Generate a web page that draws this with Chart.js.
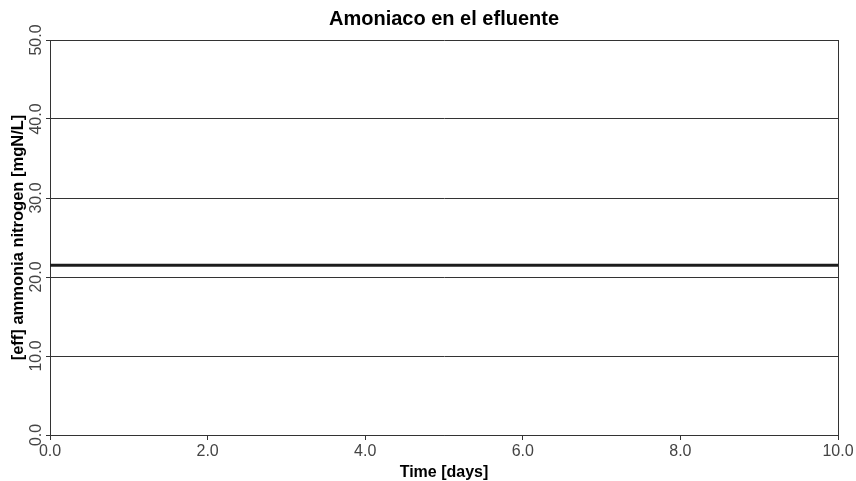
<!DOCTYPE html>
<html>
<head>
<meta charset="utf-8">
<script src="https://cdn.jsdelivr.net/npm/chart.js@4/dist/chart.umd.min.js"></script>
<style>
  html, body { margin: 0; padding: 0; background: #fff; }
  #wrap { width: 856px; height: 481px; }
</style>
</head>
<body>
<div id="wrap"><canvas id="c" width="856" height="481"></canvas></div>
<script>
// Effluent ammonia nitrogen over the simulation period
const timeDays = [0, 0.5, 1, 1.5, 2, 2.5, 3, 3.5, 4, 4.5, 5, 5.5, 6, 6.5, 7, 7.5, 8, 8.5, 9, 9.5, 10];
const ammoniaN = [21.5, 21.5, 21.5, 21.5, 21.5, 21.5, 21.5, 21.5, 21.5, 21.5, 21.5, 21.5, 21.5, 21.5, 21.5, 21.5, 21.5, 21.5, 21.5, 21.5, 21.5];
const xTicks = [0, 2, 4, 6, 8, 10];
const yTicks = [0, 10, 20, 30, 40, 50];

const FONT = "'Liberation Sans', Arial, sans-serif";

// right-hand edge of the plotting frame, and title centred over the plot
const frame = {
  id: 'frame',
  afterLayout(chart) {
    const a = chart.chartArea;
    if (chart.titleBlock) {
      chart.titleBlock.left = a.left;
      chart.titleBlock.right = a.right;
    }
  },
  afterDraw(chart) {
    const { ctx, chartArea: a } = chart;
    ctx.save();
    ctx.strokeStyle = '#333';
    ctx.lineWidth = 1;
    const x = Math.round(a.right) + 0.5;
    ctx.beginPath();
    ctx.moveTo(x, a.top);
    ctx.lineTo(x, a.bottom);
    ctx.stroke();
    ctx.restore();
  }
};

new Chart(document.getElementById('c'), {
  type: 'line',
  data: {
    datasets: [{
      data: timeDays.map((t, i) => ({ x: t, y: ammoniaN[i] })),
      borderColor: '#1c1c1c',
      borderWidth: 3,
      pointRadius: 0,
      tension: 0
    }]
  },
  options: {
    responsive: false,
    animation: false,
    layout: { padding: { left: 0, right: 18, top: 0, bottom: 0 } },
    plugins: {
      legend: { display: false },
      tooltip: { enabled: false },
      title: {
        display: true,
        text: 'Amoniaco en el efluente',
        color: '#000',
        font: { family: FONT, size: 20, weight: 'bold', lineHeight: 1.2 },
        padding: { top: 7, bottom: 9 }
      }
    },
    scales: {
      x: {
        type: 'linear',
        min: 0, max: 10,
        afterBuildTicks: s => { s.ticks = xTicks.map(v => ({ value: v })); },
        afterFit: s => { s.height = 46; },
        grid: { drawOnChartArea: false, drawTicks: true, tickLength: 5, color: '#333' },
        border: { color: '#333' },
        ticks: {
          color: '#444',
          padding: 2,
          maxRotation: 0,
          font: { family: FONT, size: 16 },
          callback: v => Number(v).toFixed(1)
        },
        title: {
          display: true,
          text: 'Time [days]',
          color: '#000',
          font: { family: FONT, size: 16, weight: 'bold', lineHeight: 1 },
          padding: { top: 0, bottom: 0 }
        }
      },
      y: {
        type: 'linear',
        min: 0, max: 50,
        afterBuildTicks: s => { s.ticks = yTicks.map(v => ({ value: v })); },
        afterFit: s => { s.width = 50; },
        grid: { drawOnChartArea: true, drawTicks: true, tickLength: 4, color: '#333' },
        border: { color: '#333' },
        ticks: {
          color: '#444',
          padding: -6,
          crossAlign: 'center',
          minRotation: 90,
          maxRotation: 90,
          font: { family: FONT, size: 16 },
          callback: v => Number(v).toFixed(1)
        },
        title: {
          display: true,
          text: '[eff] ammonia nitrogen [mgN/L]',
          color: '#000',
          font: { family: FONT, size: 16.5, weight: 'bold', lineHeight: 1 },
          padding: { top: 10, bottom: 0 }
        }
      }
    }
  },
  plugins: [frame]
});
</script>
</body>
</html>
